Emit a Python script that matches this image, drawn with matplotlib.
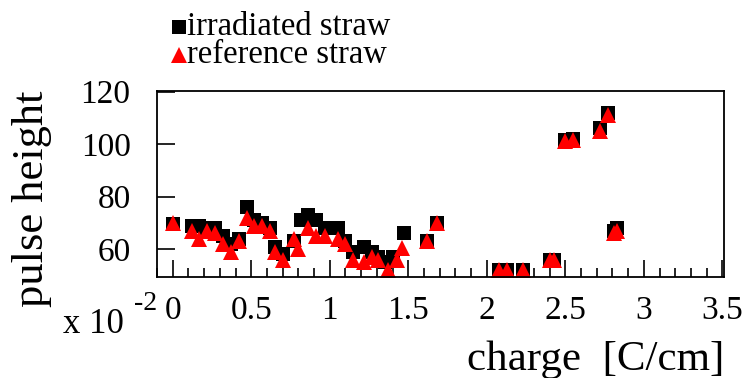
import numpy as np
import matplotlib
matplotlib.use('Agg')
import matplotlib.pyplot as plt
from matplotlib.lines import Line2D
from matplotlib.ticker import MultipleLocator, FuncFormatter

plt.rcParams['font.family'] = ['Liberation Serif', 'DejaVu Serif']

# charge in units of 1e-2 C/cm, pulse height in arbitrary units
irr_charge = [0.00, 0.12, 0.17, 0.22, 0.27, 0.32, 0.37, 0.42, 0.47, 0.52,
              0.57, 0.62, 0.65, 0.70, 0.77, 0.82, 0.86, 0.91, 0.97, 1.05,
              1.10, 1.15, 1.22, 1.27, 1.31, 1.35, 1.40, 1.47, 1.62, 1.68,
              2.08, 2.13, 2.23, 2.40, 2.43, 2.50, 2.55, 2.72, 2.77, 2.81,
              2.83]
irr_height = [69.5, 69, 69, 68, 68, 65, 62, 64, 76, 71,
              70, 68, 61, 58, 63, 71, 73, 71, 68, 68,
              63, 59, 61, 59, 57, 55, 57, 66, 63, 70,
              52, 52, 52, 56, 56, 101.5, 102, 106, 112, 67,
              68]

ref_charge = [0.00, 0.12, 0.17, 0.22, 0.27, 0.32, 0.37, 0.42, 0.47, 0.52,
              0.57, 0.62, 0.65, 0.70, 0.77, 0.80, 0.86, 0.91, 0.97, 1.05,
              1.10, 1.15, 1.22, 1.27, 1.31, 1.37, 1.43, 1.46, 1.62, 1.68,
              2.08, 2.13, 2.23, 2.40, 2.43, 2.50, 2.55, 2.72, 2.77, 2.81,
              2.83]
ref_height = [70, 67, 64, 67, 66, 62, 59, 63, 72, 69,
              69, 67, 59, 56, 64, 60, 68, 65, 65, 64,
              62, 56, 55, 57, 56, 52, 56, 60.5, 63, 70,
              52, 52, 52, 56, 56, 101, 101.5, 105, 111, 66,
              67]

W, H = 745, 378
fig = plt.figure(figsize=(W/100, H/100), dpi=100)
ax = fig.add_axes([157/W, 1 - 277/H, (724 - 157)/W, (277 - 91)/H])

ax.plot(irr_charge, irr_height, 's', color='black', ms=10.5, mew=0,
        clip_on=False)
ax.plot(ref_charge, ref_height, '^', color='red', ms=11.5, mew=0,
        clip_on=False)

ax.set_xlim(-0.1, 3.51)
ax.set_ylim(49.4, 120.2)

ax.xaxis.set_major_locator(MultipleLocator(0.5))
ax.xaxis.set_minor_locator(MultipleLocator(0.1))
ax.xaxis.set_major_formatter(FuncFormatter(lambda v, p: f'{v:g}'))
ax.set_yticks([60, 80, 100, 120])
ax.tick_params(axis='x', which='major', direction='in', length=12, width=1.2,
               labelsize=24, pad=13, top=False)
ax.tick_params(axis='x', which='minor', direction='in', length=6.5, width=1.2,
               top=False)
ax.tick_params(axis='y', which='major', direction='in', length=13, width=1.2,
               labelsize=24, pad=19, right=False)
for s in ax.spines.values():
    s.set_linewidth(1.3)

fig.text(32/W, 1 - 199/H, 'pulse height', rotation=90,
         ha='center', va='center', fontsize=32)
fig.text(724/W, 1 - 370/H, 'charge  [C/cm]', ha='right', va='baseline',
         fontsize=31)
fig.text(63/W, 1 - 333/H, 'x 10', ha='left', va='baseline', fontsize=25)
fig.text(134/W, 1 - 310/H, '-2', ha='left', va='baseline', fontsize=20)

# legend keys drawn by hand so the two rows sit tight together
legend_rows = [('irradiated straw', 's', 'black', 10, 26.5, 35),
               ('reference straw', '^', 'red', 11, 55, 63)]
for label, mk, col, ms, ykey, ybase in legend_rows:
    fig.add_artist(Line2D([178.5/W], [1 - ykey/H], marker=mk, color=col,
                          ms=ms, mew=0, transform=fig.transFigure))
    fig.text(187/W, 1 - ybase/H, label, ha='left', va='baseline', fontsize=23.5)

fig.savefig('out.png', dpi=100)
